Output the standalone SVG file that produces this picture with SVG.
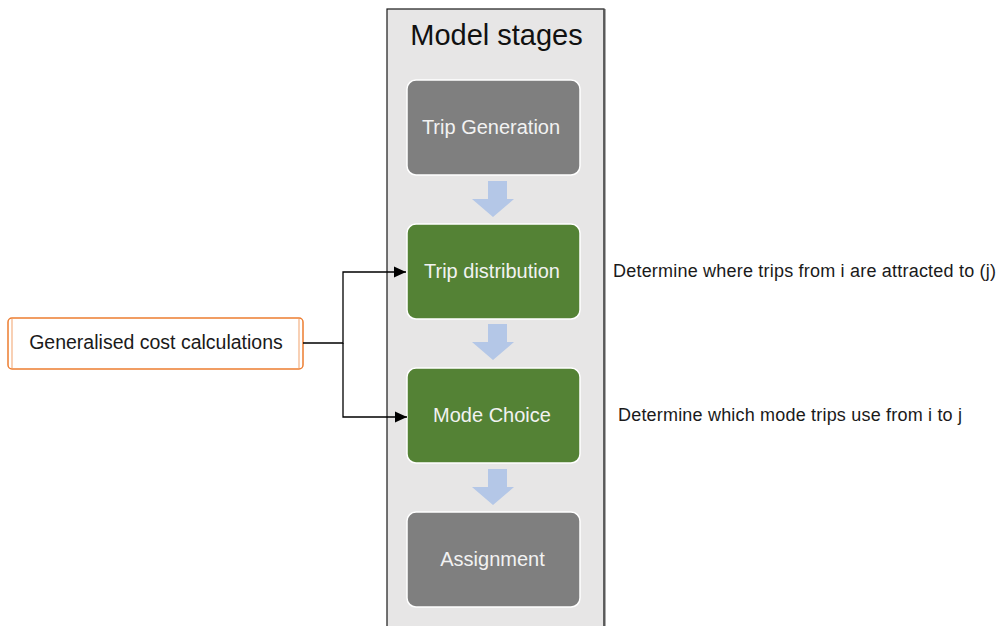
<svg xmlns="http://www.w3.org/2000/svg" width="1003" height="626" viewBox="0 0 1003 626">
  <defs>
    <style>
      .lbl { font-family: "Liberation Sans", Arial, sans-serif; }
      .stage { stroke: #ffffff; stroke-width: 1.5; }
      .grey { fill: #7f7f7f; }
      .green { fill: #548235; }
      .stage-text { font-size: 20px; fill: #f2f2f2; text-anchor: middle; }
      .note { font-size: 18px; fill: #1a1a1a; }
      .flow { fill: #b4c7e7; }
      .link { fill: none; stroke: #000000; stroke-width: 1.3; }
    </style>
    <marker id="head" viewBox="0 0 12 12" refX="12" refY="6" markerWidth="12" markerHeight="12" markerUnits="userSpaceOnUse" orient="auto">
      <path d="M0,0.5 L12,6 L0,11.5 Z" fill="#000000"/>
    </marker>
  </defs>

  <rect width="1003" height="626" fill="#ffffff"/>

  <!-- container for the model stages -->
  <g id="container">
    <rect x="387" y="9" width="217" height="640" fill="#e7e6e6" stroke="#1a1a1a" stroke-width="1.2"/>
    <line x1="604.5" y1="9" x2="604.5" y2="626" stroke="#595959" stroke-width="2"/>
    <text class="lbl" x="496.5" y="45" font-size="29" fill="#111111" text-anchor="middle">Model stages</text>
  </g>

  <!-- flow arrows between stages -->
  <g id="flow-arrows">
    <path class="flow" d="M488,181 H507 V199 H514 L493,217 L472,199 H488 Z"/>
    <path class="flow" d="M488,324 H507 V342 H514 L493,360 L472,342 H488 Z"/>
    <path class="flow" d="M488,469 H507 V487 H514 L493,505 L472,487 H488 Z"/>
  </g>

  <g id="trip-generation">
    <rect class="stage grey" x="407" y="80" width="173" height="95" rx="9"/>
    <text class="lbl stage-text" x="491" y="134">Trip Generation</text>
  </g>

  <g id="trip-distribution">
    <rect class="stage green" x="407" y="224" width="173" height="95" rx="9"/>
    <text class="lbl stage-text" x="492" y="278">Trip distribution</text>
  </g>

  <g id="mode-choice">
    <rect class="stage green" x="407" y="368" width="173" height="95" rx="9"/>
    <text class="lbl stage-text" x="492" y="422">Mode Choice</text>
  </g>

  <g id="assignment">
    <rect class="stage grey" x="407" y="512" width="173" height="95" rx="9"/>
    <text class="lbl stage-text" x="492.5" y="566">Assignment</text>
  </g>

  <g id="generalised-cost">
    <rect x="8" y="318" width="295" height="51" rx="4" fill="#ffffff" stroke="#ed7d31" stroke-width="1.5"/>
    <line x1="12" y1="319" x2="12" y2="368" stroke="#f4b183" stroke-width="1.2"/>
    <line x1="299" y1="319" x2="299" y2="368" stroke="#f4b183" stroke-width="1.2"/>
    <text class="lbl" x="156" y="349" font-size="19.5" fill="#1a1a1a" text-anchor="middle">Generalised cost calculations</text>
  </g>

  <g id="notes">
    <text class="lbl note" x="613" y="277" textLength="383" lengthAdjust="spacing">Determine where trips from i are attracted to (j)</text>
    <text class="lbl note" x="618" y="421" textLength="344" lengthAdjust="spacing">Determine which mode trips use from i to j</text>
  </g>

  <!-- connectors from the cost calculations to the stages that use them -->
  <g id="connectors">
    <polyline class="link" points="303,343 343,343 343,272 406,272" marker-end="url(#head)"/>
    <polyline class="link" points="343,343 343,417 407,417" marker-end="url(#head)"/>
  </g>
</svg>
